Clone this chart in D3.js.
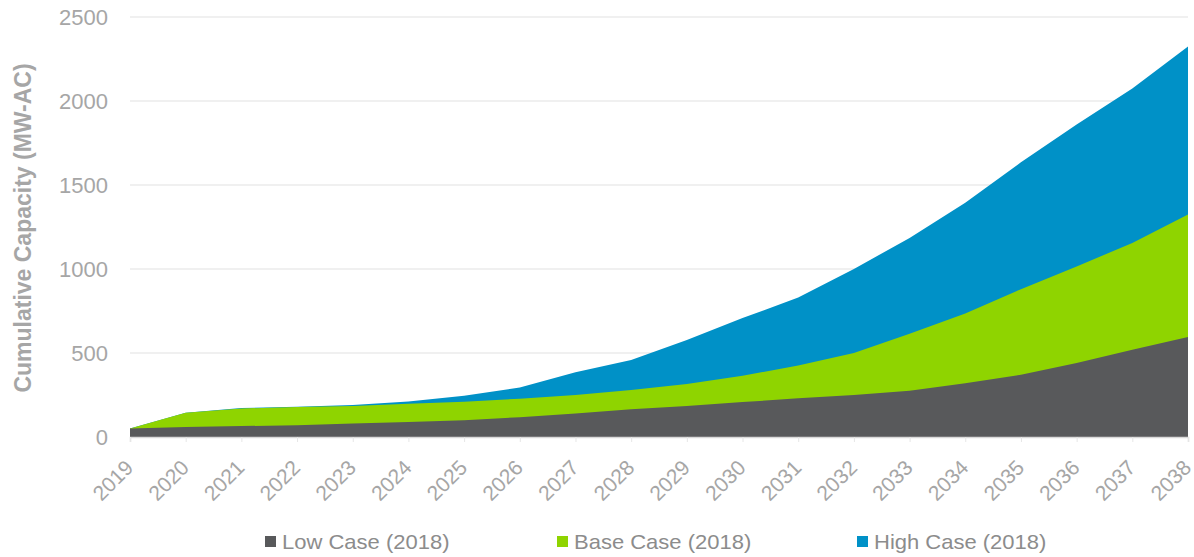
<!DOCTYPE html>
<html>
<head>
<meta charset="utf-8">
<script src="https://cdn.jsdelivr.net/npm/d3@7/dist/d3.min.js"></script>
<style>
  html, body { margin: 0; padding: 0; background: #fff; }
  svg { display: block; font-family: "Liberation Sans", Arial, sans-serif; }
</style>
</head>
<body>
<svg id="chart" width="1194" height="557"></svg>
<script>
const years = ["2019","2020","2021","2022","2023","2024","2025","2026","2027","2028","2029","2030","2031","2032","2033","2034","2035","2036","2037","2038"];
const lowCase  = [50, 60, 65, 70, 80, 90, 100, 118, 140, 165, 185, 208, 230, 250, 275, 320, 370, 440, 520, 595];
const baseCase = [50, 145, 170, 178, 185, 198, 210, 228, 250, 280, 315, 365, 425, 500, 615, 735, 880, 1015, 1155, 1325];
const highCase = [50, 145, 172, 180, 190, 212, 245, 295, 385, 458, 578, 708, 830, 1000, 1185, 1395, 1635, 1860, 2075, 2325];
const yTicks = [0, 500, 1000, 1500, 2000, 2500];
const seriesNames = ["Low Case (2018)", "Base Case (2018)", "High Case (2018)"];
const seriesColors = ["#58595b", "#8fd400", "#0091c7"];

(function () {
const svg = d3.select("#chart");
const plotLeft = 130, plotRight = 1188, plotTop = 17, plotBottom = 437;

const x = d3.scalePoint().domain(years).range([plotLeft, plotRight]);
const y = d3.scaleLinear().domain([0, 2500]).range([plotBottom, plotTop]);

// gridlines
svg.append("g").selectAll("line").data(yTicks.filter(d => d > 0)).join("line")
  .attr("x1", plotLeft).attr("x2", plotRight)
  .attr("y1", d => y(d)).attr("y2", d => y(d))
  .attr("stroke", "#ebebeb").attr("stroke-width", 1.5);

// areas: high behind, then base, then low
const series = [
  { name: seriesNames[2], values: highCase, color: seriesColors[2] },
  { name: seriesNames[1], values: baseCase, color: seriesColors[1] },
  { name: seriesNames[0], values: lowCase,  color: seriesColors[0] }
];
const area = d3.area()
  .x((d, i) => x(years[i]))
  .y0(y(0))
  .y1(d => y(d));
svg.append("g").selectAll("path").data(series).join("path")
  .attr("d", d => area(d.values))
  .attr("fill", d => d.color);

// x axis
const xAxis = d3.axisBottom(x).tickSize(5).tickPadding(4);
const gx = svg.append("g").attr("transform", `translate(0,${plotBottom})`).call(xAxis);
gx.select(".domain").attr("stroke", "#d9d9d9").attr("stroke-width", 1.5);
gx.selectAll(".tick line").attr("stroke", "#e6e6e6");
gx.selectAll(".tick text")
  .attr("fill", "#a6a6a6")
  .style("font-size", "21px")
  .attr("text-anchor", "end")
  .attr("x", 0).attr("y", 0).attr("dy", "0")
  .attr("transform", "translate(4,32) rotate(-45)");

// y axis
const yAxis = d3.axisLeft(y).tickValues(yTicks).tickFormat(d3.format("d")).tickSize(0).tickPadding(22);
const gy = svg.append("g").attr("transform", `translate(${plotLeft},0)`).call(yAxis);
gy.select(".domain").remove();
gy.selectAll(".tick text")
  .attr("fill", "#a6a6a6")
  .style("font-size", "22px");

// y axis title
svg.append("text")
  .attr("transform", `translate(31,228) rotate(-90)`)
  .attr("text-anchor", "middle")
  .attr("fill", "#a6a6a6")
  .style("font-size", "23px")
  .style("font-weight", "bold")
  .text("Cumulative Capacity (MW-AC)");

// legend
const legendX = [265, 557, 857];
const legendOrder = [0, 1, 2];
const lg = svg.append("g").selectAll("g").data(legendOrder).join("g")
  .attr("transform", (d, i) => `translate(${legendX[i]},541.5)`);
lg.append("rect").attr("x", 0).attr("y", -5.5).attr("width", 11).attr("height", 11)
  .attr("fill", d => seriesColors[d]);
lg.append("text")
  .attr("transform", "translate(17,0) scale(1.1,1)")
  .attr("dy", "0.36em")
  .attr("fill", "#8c8c8c").style("font-size", "20px")
  .text(d => seriesNames[d]);
})();
</script>
</body>
</html>
